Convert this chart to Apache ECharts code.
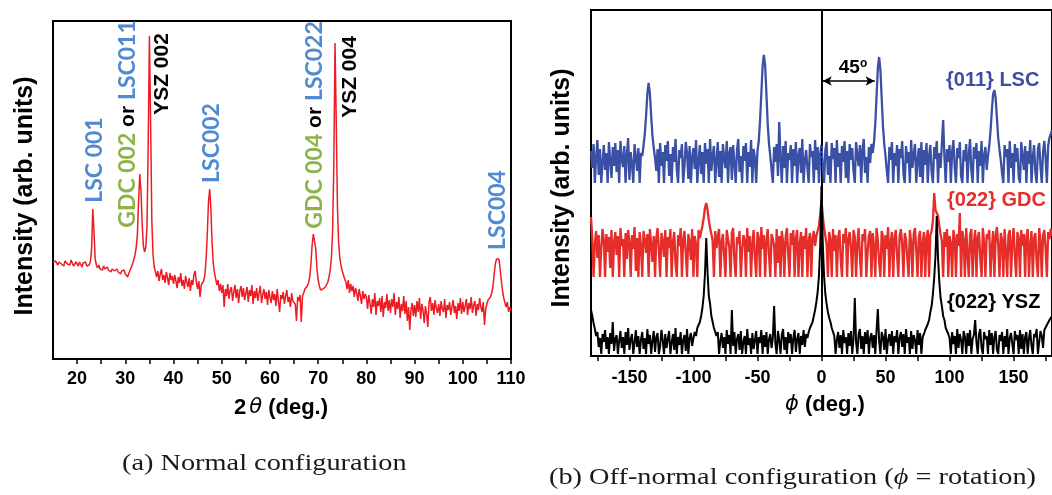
<!DOCTYPE html>
<html><head><meta charset="utf-8">
<script src="https://cdn.jsdelivr.net/npm/echarts@6/dist/echarts.min.js"></script>
<style>html,body{margin:0;padding:0;background:#fff}#c{width:1052px;height:495px}</style>
</head><body><div id="c"></div>
<script>
// ---------- DATA ----------
// (a) 2-theta scan, sampled every 0.25 deg from 15 deg (intensity, arbitrary units); one row = 5 deg
const twoThetaStart = 15, twoThetaStep = 0.25;
const xrdIntensity = [
  97,95,98,96,94,97,99,95,96,93,98,96,95,97,94,99,96,93,95,97,
  96,93,97,95,92,96,94,97,93,95,94,97,110,150,128,100,94,91,94,90,
  92,89,93,90,88,92,89,91,87,90,92,88,86,90,87,89,85,88,86,89,
  85,83,82,86,89,92,95,99,104,111,124,158,185,168,134,113,107,112,133,215,
  323,235,138,104,92,87,82,88,78,85,90,79,84,76,87,81,74,86,79,83,
  75,84,78,71,82,76,86,73,79,70,83,77,72,81,68,79,74,85,88,76,
  70,78,62,74,72,78,84,99,124,157,170,150,116,95,86,80,74,79,68,75,
  66,74,52,70,63,75,60,69,72,58,67,74,61,70,56,68,73,62,71,59,
  66,72,57,69,63,74,55,68,61,71,58,66,73,56,64,70,60,67,54,69,
  62,56,68,59,65,53,70,58,47,64,60,67,55,63,69,57,62,52,66,58,
  60,55,38,62,58,64,37,63,66,70,68,73,76,82,95,114,125,127,110,90,
  79,73,69,67,70,68,72,74,77,82,89,101,128,195,316,238,152,116,101,93,
  88,84,80,77,70,79,66,75,68,73,62,71,66,58,70,63,55,68,60,65,
  62,50,64,56,45,60,52,66,44,58,53,61,47,63,42,57,51,65,48,59,
  46,60,52,66,44,57,50,62,41,55,48,63,45,58,38,52,29,49,56,43,
  54,42,58,47,61,40,55,49,36,53,45,32,57,62,48,56,44,59,51,46,
  55,43,58,50,47,60,41,54,49,57,44,52,59,46,53,40,56,48,61,45,
  57,47,53,60,44,56,50,62,46,54,58,43,55,49,61,52,47,57,34,50,
  55,59,58,62,66,72,84,95,100,102,100,90,78,68,61,56,52,57,47,52,
  48
];
const twoThetaLabels = [20,30,40,50,60,70,80,90,100,110];
const twoThetaTicks = [20,25,30,35,40,45,50,55,60,65,70,75,80,85,90,95,100,105,110];

// (b) phi scans, sampled every 1 deg from -180 deg; one row = 20 deg
const phiStart = -180, phiStep = 1;
const lscIntensity = [
  205,188,212,173,199,216,181,207,173,193,211,186,203,173,214,196,178,209,190,213,
  184,206,173,215,197,189,210,173,201,218,176,204,192,173,212,199,185,208,173,203,
  200,210,222,240,262,273,262,240,220,208,198,185,207,173,213,190,204,173,211,195,
  215,180,202,173,209,194,217,186,173,206,198,212,173,190,214,203,177,210,173,199,
  208,187,216,173,195,211,182,204,173,213,192,207,173,217,185,201,210,173,196,214,
  179,205,173,212,198,188,215,173,203,209,176,211,193,173,206,217,184,200,173,210,
  195,213,173,204,189,216,173,207,198,173,205,215,235,262,290,301,290,262,232,212,
  200,186,173,209,194,212,180,234,198,173,210,188,215,173,203,196,211,173,207,190,
  214,173,201,208,183,217,173,195,206,188,173,212,199,205,173,216,186,209,173,202,
  211,190,173,206,214,181,200,173,213,197,208,173,216,189,203,173,210,194,215,178,
  205,173,212,196,208,185,173,214,201,190,211,173,206,217,183,199,173,209,193,212,
  203,214,232,260,288,299,286,258,230,212,200,185,173,209,196,214,173,203,190,211,
  173,207,198,215,182,173,210,193,204,173,216,188,201,212,173,196,208,179,214,173,
  206,191,213,173,200,211,184,173,209,197,215,173,203,188,212,236,199,173,207,194,
  211,173,204,216,189,173,208,198,214,180,173,206,195,212,173,201,217,186,173,209,
  197,213,173,205,190,215,173,201,209,186,200,210,225,245,262,266,258,238,218,206,
  196,183,173,211,199,207,173,215,188,203,173,212,194,208,179,173,214,200,186,210,
  173,205,192,216,173,199,211,184,173,207,213,190,173,204,215,198,173,210,218,222,
  226
];
const gdcIntensity = [
  139,118,79,112,125,98,121,79,108,127,116,79,122,104,119,88,126,79,113,124,
  101,120,79,128,110,117,79,123,97,126,114,79,121,107,129,85,118,79,124,111,
  79,125,116,103,122,79,127,112,94,120,79,118,128,106,79,123,115,99,126,79,
  119,108,127,79,114,124,92,79,121,110,128,79,117,125,103,79,122,113,96,127,
  79,120,112,79,126,118,124,130,138,148,153,146,136,128,122,115,79,125,108,119,
  127,79,114,122,100,79,126,117,109,79,123,128,95,79,119,112,125,79,106,121,
  116,79,128,104,120,79,113,126,98,79,124,118,79,129,107,121,79,115,127,101,
  79,122,117,110,79,127,93,120,79,125,114,79,119,128,102,79,123,111,126,79,
  118,126,79,112,124,79,120,107,128,79,115,123,79,118,125,110,120,122,130,142,
  156,140,128,120,112,79,124,116,79,127,105,121,79,118,126,96,79,122,113,128,
  79,117,124,108,79,126,119,79,113,128,99,79,122,115,127,79,104,120,125,79,
  123,110,79,128,116,94,79,125,119,79,121,107,129,79,114,124,79,118,126,101,
  79,120,127,112,79,123,117,98,79,126,114,79,122,128,106,79,119,125,79,113,
  124,79,118,126,79,121,125,135,163,146,148,140,130,122,115,79,124,109,127,79,
  120,113,79,126,118,79,122,110,143,79,125,116,79,128,103,79,121,127,79,114,
  126,79,119,124,97,79,128,113,79,122,117,126,79,108,125,79,120,129,111,79,
  123,116,79,127,105,79,121,126,79,114,128,99,79,124,118,79,126,110,122,79,
  119,127,79,112,125,79,118,123,94,79,128,115,79,121,126,107,79,124,117,127,
  120
];
const yszIntensity = [
  46,40,33,27,20,24,9,18,2,22,14,26,7,19,2,23,12,34,5,17,
  21,2,15,25,8,19,2,24,11,28,6,17,22,2,13,26,9,20,2,16,
  24,7,18,2,27,12,21,2,15,25,4,19,23,2,10,26,16,2,22,8,
  17,25,2,13,22,6,28,2,19,11,24,2,16,21,5,27,2,18,23,10,
  18,24,20,28,26,34,40,48,60,82,118,84,60,52,40,38,28,30,20,24,
  2,15,23,8,19,2,26,12,21,2,46,10,24,2,17,22,6,25,2,14,
  20,2,27,11,18,2,23,7,16,25,2,19,13,26,2,21,9,24,2,17,
  22,8,18,50,12,2,25,16,2,21,27,6,19,2,24,13,22,2,18,26,
  4,17,23,2,20,11,26,9,22,18,24,28,30,34,40,46,54,64,80,110,
  170,112,80,62,52,44,38,34,28,30,20,2,16,24,8,21,2,26,13,19,
  2,23,10,25,2,17,58,14,2,22,27,7,20,2,24,12,26,2,18,23,
  8,21,2,26,47,15,2,24,19,6,27,2,16,22,10,25,2,20,14,26,
  2,18,24,9,22,2,27,13,19,2,25,7,21,16,2,26,11,23,2,19,
  22,26,24,32,36,44,50,62,78,100,140,98,74,58,50,40,36,28,30,22,
  18,2,24,12,20,2,27,8,22,16,2,25,19,2,23,10,26,2,17,21,
  36,14,2,22,27,8,2,24,17,20,2,26,11,23,2,19,25,6,2,21,
  15,24,2,20,9,27,2,18,23,12,2,25,16,21,2,26,7,22,2,19,
  24,2,17,26,10,2,22,19,27,2,14,25,20,8,26,28,31,33,36,38,
  40
];
const phiLabels = [-150,-100,-50,0,50,100,150];
const phiTicks = [-175,-150,-125,-100,-75,-50,-25,0,25,50,75,100,125,150,175];
const arrowPhi = [1, 41.5], arrowLevel = 275;
const zeroGuide = [[0, 0], [0, 346]];  // dashed phi = 0 reference line

// ---------- CHART ----------
const pairs = (arr, start, step) => arr.map((v, i) => [start + i * step, v]);
const chart = echarts.init(document.getElementById('c'), null, {renderer: 'canvas'});
const SANS = 'Liberation Sans';
const tickFont = {fontSize: 18, fontWeight: 'bold', color: '#000', fontFamily: SANS};
const lblBlue = '#4f8ad2', lblGreen = '#8db44b';

const rotText = (x, y, text) => ({
  type: 'text', x: x, y: y, rotation: Math.PI / 2, silent: true,
  style: {text: text, align: 'center', verticalAlign: 'middle',
    rich: {
      b: {fontFamily: 'Lato', fontSize: 23, fontWeight: 'bold', fill: lblBlue},
      g: {fontFamily: 'Lato', fontSize: 23, fontWeight: 'bold', fill: lblGreen},
      k: {fontFamily: SANS, fontSize: 21, fontWeight: 'bold', fill: '#000'}
    }}
});

chart.setOption({
  animation: false,
  backgroundColor: '#fff',
  grid: [
    {left: 53, top: 21, width: 458, height: 338, show: true, borderColor: '#000', borderWidth: 2, backgroundColor: 'transparent'},
    {left: 591, top: 10, width: 468, height: 346, show: true, borderColor: '#000', borderWidth: 2, backgroundColor: 'transparent'}
  ],
  xAxis: [
    {type: 'value', gridIndex: 0, min: 15, max: 110,
     axisLine: {show: true, lineStyle: {color: '#000', width: 2}},
     axisTick: {show: true, inside: false, length: 5, customValues: twoThetaTicks, lineStyle: {color: '#000', width: 1.5}},
     axisLabel: Object.assign({margin: 11, customValues: twoThetaLabels}, tickFont),
     splitLine: {show: false}},
    {type: 'value', gridIndex: 1, min: -180, max: 180,
     axisLine: {show: true, lineStyle: {color: '#000', width: 2}},
     axisTick: {show: true, inside: false, length: 5, customValues: phiTicks, lineStyle: {color: '#000', width: 1.5}},
     axisLabel: Object.assign({margin: 13, customValues: phiLabels}, tickFont),
     splitLine: {show: false}}
  ],
  yAxis: [
    {type: 'value', gridIndex: 0, min: 0, max: 338, axisLine: {show: true, lineStyle: {color: '#000', width: 2}},
     axisTick: {show: false}, axisLabel: {show: false}, splitLine: {show: false}},
    {type: 'value', gridIndex: 1, min: 0, max: 346, axisLine: {show: true, lineStyle: {color: '#000', width: 2}},
     axisTick: {show: false}, axisLabel: {show: false}, splitLine: {show: false}}
  ],
  series: [
    {type: 'line', xAxisIndex: 0, yAxisIndex: 0, data: pairs(xrdIntensity, twoThetaStart, twoThetaStep),
     showSymbol: false, symbol: 'none', lineStyle: {color: '#ed1c24', width: 1.5}, silent: true},
    {type: 'line', xAxisIndex: 1, yAxisIndex: 1, data: pairs(lscIntensity, phiStart, phiStep),
     showSymbol: false, symbol: 'none', lineStyle: {color: '#3a50a5', width: 2.3}, silent: true,
     markLine: {silent: true, symbol: ['arrow', 'arrow'], symbolSize: [7, 9], label: {show: false},
       lineStyle: {color: '#000', width: 1.5, type: 'solid'},
       data: [[{coord: [arrowPhi[0], arrowLevel]}, {coord: [arrowPhi[1], arrowLevel]}]]}},
    {type: 'line', xAxisIndex: 1, yAxisIndex: 1, data: pairs(gdcIntensity, phiStart, phiStep),
     showSymbol: false, symbol: 'none', lineStyle: {color: '#e52d2a', width: 2.3}, silent: true},
    {type: 'line', xAxisIndex: 1, yAxisIndex: 1, data: pairs(yszIntensity, phiStart, phiStep),
     showSymbol: false, symbol: 'none', lineStyle: {color: '#000', width: 2}, silent: true},
    {type: 'line', xAxisIndex: 1, yAxisIndex: 1, data: zeroGuide, showSymbol: false, symbol: 'none', silent: true,
     lineStyle: {color: '#000', width: 1, type: [3, 2]}, z: 5}
  ],
  graphic: [
    // axis titles
    {type: 'text', x: 25, y: 196, rotation: Math.PI / 2, silent: true,
     style: {text: 'Intensity (arb. units)', font: 'bold 25px "Liberation Sans"', fill: '#000', align: 'center', verticalAlign: 'middle'}},
    {type: 'text', x: 562, y: 188, rotation: Math.PI / 2, silent: true,
     style: {text: 'Intensity (arb. units)', font: 'bold 25px "Liberation Sans"', fill: '#000', align: 'center', verticalAlign: 'middle'}},
    {type: 'text', x: 281, y: 408, silent: true,
     style: {text: '{a|2}{t|θ}{a| (deg.)}', align: 'center', verticalAlign: 'middle',
       rich: {a: {fontFamily: SANS, fontSize: 22, fontWeight: 'bold', fill: '#000'},
              t: {fontFamily: 'DejaVu Sans', fontSize: 21, fontStyle: 'italic', fill: '#000', padding: [0, 0, 0, 3]}}}},
    {type: 'text', x: 825, y: 405, silent: true,
     style: {text: '{t|ϕ}{a| (deg.)}', align: 'center', verticalAlign: 'middle',
       rich: {a: {fontFamily: SANS, fontSize: 22, fontWeight: 'bold', fill: '#000'},
              t: {fontFamily: 'DejaVu Sans', fontSize: 21, fontStyle: 'italic', fill: '#000'}}}},
    // captions
    {type: 'text', x: 122, y: 464, scaleX: 1.18, silent: true,
     style: {text: '(a) Normal configuration', font: '24px "Liberation Serif"', fill: '#1a1a1a', align: 'left', verticalAlign: 'middle'}},
    {type: 'text', x: 549, y: 478, scaleX: 1.18, silent: true,
     style: {text: '{a|(b) Off-normal configuration (}{p|ϕ}{a| = rotation)}', align: 'left', verticalAlign: 'middle',
       rich: {a: {fontFamily: 'Liberation Serif', fontSize: 24, fill: '#1a1a1a'},
              p: {fontFamily: 'Liberation Serif', fontSize: 24, fontStyle: 'italic', fill: '#1a1a1a'}}}},
    // peak annotations (a)
    rotText(95, 160, '{b|LSC 001}'),
    rotText(128, 124, '{g|GDC 002}{k| or }{b|LSC011}'),
    rotText(162, 74, '{k|YSZ 002}'),
    rotText(212, 143, '{b|LSC002}'),
    rotText(315, 125, '{g|GDC 004}{k| or }{b|LSC022}'),
    rotText(350, 77, '{k|YSZ 004}'),
    rotText(498, 210, '{b|LSC004}'),
    // labels (b)
    {type: 'text', x: 853, y: 68, silent: true,
     style: {text: '{n|45}{s|o}', align: 'center', verticalAlign: 'middle',
       rich: {n: {fontFamily: SANS, fontSize: 19, fontWeight: 'bold', fill: '#000'},
              s: {fontFamily: SANS, fontSize: 12, fontWeight: 'bold', fill: '#000', verticalAlign: 'top', padding: [0, 0, 8, 0]}}}},
    {type: 'text', x: 946, y: 80, silent: true,
     style: {text: '{011} LSC', font: 'bold 20px "Liberation Sans"', fill: '#3b4ea3', align: 'left', verticalAlign: 'middle'}},
    {type: 'text', x: 947, y: 200, silent: true,
     style: {text: '{022} GDC', font: 'bold 20px "Liberation Sans"', fill: '#e52d2a', align: 'left', verticalAlign: 'middle'}},
    {type: 'text', x: 947, y: 302, silent: true,
     style: {text: '{022} YSZ', font: 'bold 20px "Liberation Sans"', fill: '#000', align: 'left', verticalAlign: 'middle'}}
  ]
});
</script></body></html>
